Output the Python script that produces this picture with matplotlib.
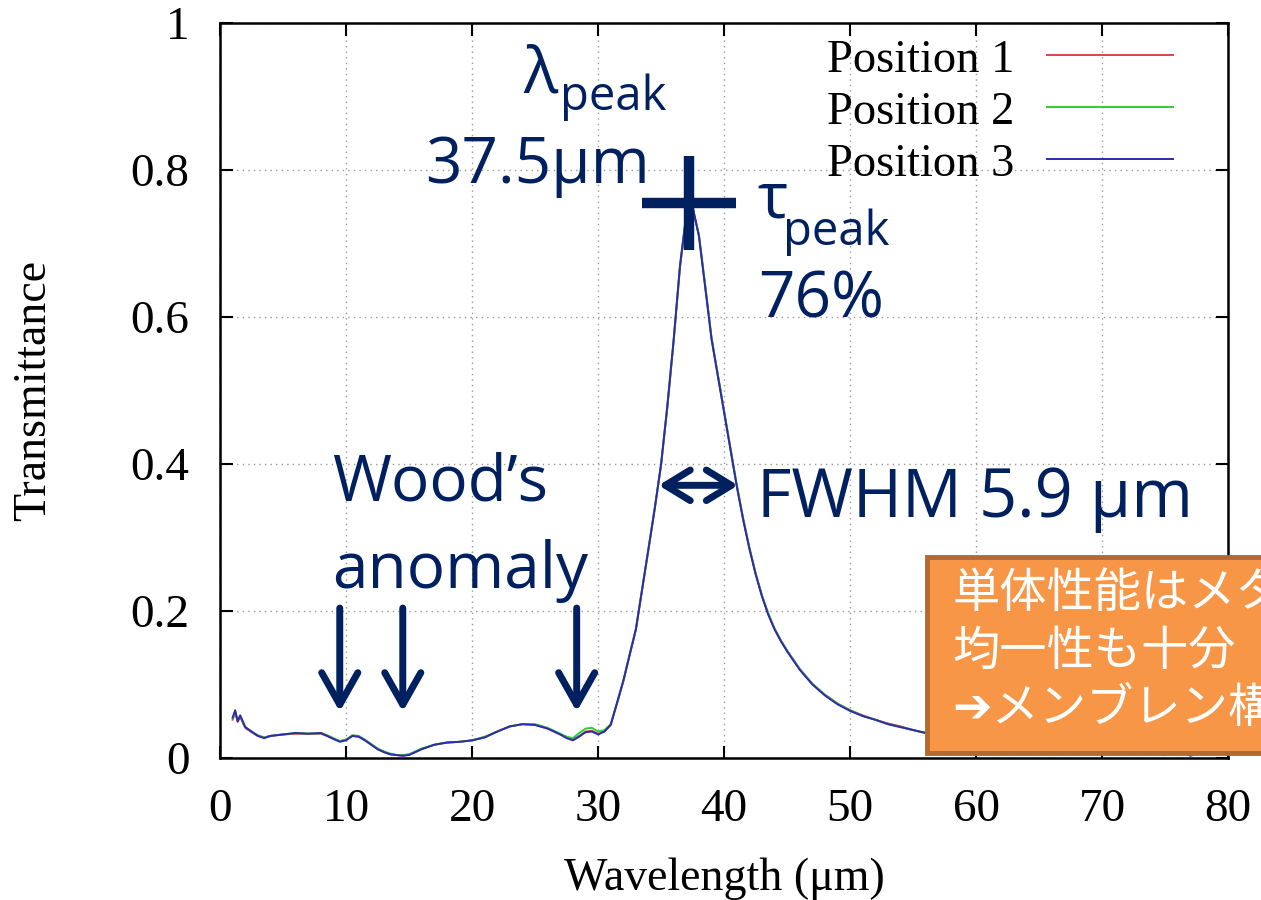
import matplotlib
matplotlib.use("Agg")
import matplotlib.pyplot as plt
from matplotlib.patches import Rectangle
import numpy as np

# wavelength grid (um) and transmittance
wavelength = [1.0, 1.2, 1.4, 1.6, 2.0, 2.5, 3.0, 3.5, 4.0, 5.0, 6.0, 7.0, 8.0, 8.5,
              9.0, 9.5, 10.0, 10.5, 11.0, 11.5, 12.0, 12.5, 13.0, 13.5, 14.0, 14.5,
              15.0, 15.5, 16.0, 17.0, 18.0, 19.0, 20.0, 21.0, 22.0, 23.0, 24.0, 25.0,
              26.0, 27.0, 27.5, 28.0, 28.5, 29.0, 29.5, 30.0, 30.5, 31.0, 31.5, 32.0,
              32.5, 33.0, 33.5, 34.0, 34.5, 35.0, 35.5, 36.0, 36.5, 37.0, 37.25, 37.5,
              38.0, 38.5, 39.0, 39.5, 40.0, 40.5, 41.0, 41.5, 42.0, 42.5, 43.0, 43.5,
              44.0, 44.5, 45.0, 46.0, 47.0, 48.0, 49.0, 50.0, 51.0, 52.0, 53.0, 54.0,
              55.0, 56.0, 57.0, 58.0, 60.0, 62.0, 64.0, 66.0, 68.0, 70.0, 72.0, 74.0,
              75.0, 76.0, 77.0, 78.0]

pos1 = [0.052, 0.062, 0.049, 0.056, 0.041, 0.035, 0.030, 0.028, 0.030, 0.032, 0.033, 0.033,
        0.033, 0.030, 0.026, 0.023, 0.025, 0.030, 0.029, 0.024, 0.018, 0.012, 0.008, 0.005,
        0.004, 0.003, 0.005, 0.008, 0.012, 0.018, 0.021, 0.022, 0.024, 0.028, 0.036, 0.043,
        0.046, 0.045, 0.040, 0.032, 0.028, 0.025, 0.030, 0.036, 0.037, 0.033, 0.036, 0.045,
        0.074, 0.104, 0.140, 0.176, 0.230, 0.284, 0.340, 0.399, 0.478, 0.568, 0.668, 0.738,
        0.753, 0.748, 0.711, 0.642, 0.571, 0.521, 0.471, 0.421, 0.371, 0.326, 0.286, 0.251,
        0.221, 0.196, 0.176, 0.160, 0.146, 0.121, 0.101, 0.086, 0.074, 0.065, 0.058, 0.052,
        0.047, 0.043, 0.038, 0.034, 0.031, 0.027, 0.023, 0.019, 0.016, 0.014, 0.012, 0.010,
        0.009, 0.008, 0.006, 0.009, 0.004, 0.007]

pos2 = [0.054, 0.063, 0.051, 0.057, 0.042, 0.036, 0.031, 0.028, 0.030, 0.032, 0.034, 0.033,
        0.034, 0.031, 0.027, 0.023, 0.025, 0.031, 0.030, 0.025, 0.019, 0.013, 0.009, 0.006,
        0.004, 0.004, 0.005, 0.009, 0.013, 0.018, 0.021, 0.022, 0.024, 0.029, 0.036, 0.043,
        0.046, 0.046, 0.041, 0.033, 0.029, 0.027, 0.034, 0.040, 0.041, 0.036, 0.038, 0.046,
        0.075, 0.105, 0.141, 0.175, 0.231, 0.285, 0.341, 0.400, 0.480, 0.570, 0.670, 0.740,
        0.754, 0.749, 0.712, 0.643, 0.572, 0.522, 0.472, 0.422, 0.372, 0.327, 0.287, 0.251,
        0.221, 0.197, 0.176, 0.160, 0.146, 0.121, 0.101, 0.086, 0.074, 0.065, 0.057, 0.052,
        0.046, 0.042, 0.038, 0.034, 0.031, 0.027, 0.023, 0.019, 0.016, 0.014, 0.012, 0.011,
        0.009, 0.008, 0.005, 0.010, 0.004, 0.008]

pos3 = [0.055, 0.065, 0.050, 0.058, 0.042, 0.036, 0.030, 0.027, 0.030, 0.032, 0.034, 0.033,
        0.034, 0.030, 0.026, 0.022, 0.024, 0.030, 0.029, 0.024, 0.018, 0.012, 0.008, 0.005,
        0.004, 0.003, 0.004, 0.008, 0.012, 0.018, 0.021, 0.022, 0.024, 0.028, 0.036, 0.043,
        0.046, 0.045, 0.040, 0.032, 0.027, 0.024, 0.029, 0.035, 0.036, 0.032, 0.036, 0.045,
        0.075, 0.105, 0.140, 0.175, 0.230, 0.285, 0.340, 0.400, 0.480, 0.570, 0.670, 0.740,
        0.755, 0.750, 0.710, 0.640, 0.570, 0.520, 0.470, 0.420, 0.370, 0.325, 0.285, 0.250,
        0.220, 0.195, 0.175, 0.159, 0.145, 0.120, 0.100, 0.085, 0.073, 0.064, 0.057, 0.052,
        0.046, 0.042, 0.038, 0.034, 0.030, 0.027, 0.022, 0.019, 0.016, 0.014, 0.012, 0.010,
        0.009, 0.008, 0.004, 0.010, 0.003, 0.008]

series_names = ["Position 1", "Position 2", "Position 3"]
series_colors = ["#dd4444", "#33cc33", "#2b2bb0"]

xticks = [0, 10, 20, 30, 40, 50, 60, 70, 80]
yticks = [0, 0.2, 0.4, 0.6, 0.8, 1.0]
ytick_labels = ["0", "0.2", "0.4", "0.6", "0.8", "1"]

wood_dips = [9.5, 14.5, 28.3]
fwhm_left, fwhm_right = 34.8, 41.1

navy = "#002060"
serif = "Liberation Serif"
sans = "Open Sans"

fig = plt.figure(figsize=(12.61, 9), dpi=100)
ax = fig.add_axes([0.1745, 0.1578, 0.7995, 0.8166])

for vals, name, col in zip([pos1, pos2, pos3], series_names, series_colors):
    ax.plot(wavelength, vals, color=col, lw=1.4, label=name)

ax.set_xlim(0, 80)
ax.set_ylim(0, 1)
ax.set_xticks(xticks)
ax.set_yticks(yticks)
ax.set_yticklabels(ytick_labels)
ax.grid(True, color="#999999", lw=1.0, linestyle=(0, (1, 3)))
ax.tick_params(direction="in", length=9, width=1.5, top=True, right=True,
               labelsize=34, pad=22)
for lab in ax.get_xticklabels() + ax.get_yticklabels():
    lab.set_family(serif)
for sp in ax.spines.values():
    sp.set_linewidth(1.8)

ax.set_xlabel("Wavelength (\u03bcm)", fontsize=33, family=serif, labelpad=19)
ax.set_ylabel("Transmittance", fontsize=33, family=serif, labelpad=54)

ax.legend(loc="upper right", bbox_to_anchor=(0.945, 0.978), frameon=False,
          markerfirst=False, prop={"family": serif, "size": 33.5},
          handlelength=2.7, handletextpad=0.7, labelspacing=0.2,
          borderpad=0, borderaxespad=0)

# peak cross at data maximum
ipk = int(np.argmax(pos3))
ax.plot(wavelength[ipk], pos3[ipk], marker="+", ms=67, mew=7.5, color=navy, zorder=5)

big = 46
sub = 34
ax.text(24.05, 0.905, "\u03bb", fontsize=big, color=navy, family=sans, va="baseline")
ax.text(26.98, 0.882, "peak", fontsize=sub, color=navy, family=sans, va="baseline")
ax.text(16.27, 0.782, "37.5\u03bcm", fontsize=big, color=navy, family=sans, va="baseline")
ax.text(42.62, 0.735, "\u03c4", fontsize=big, color=navy, family=sans, va="baseline")
ax.text(44.68, 0.698, "peak", fontsize=sub, color=navy, family=sans, va="baseline")
ax.text(42.7, 0.600, "76%", fontsize=big, color=navy, family=sans, va="baseline")
ax.text(42.62, 0.328, "FWHM 5.9 \u03bcm", fontsize=48, color=navy, family=sans, va="baseline")
ax.text(8.89, 0.351, "Wood\u2019s", fontsize=big, color=navy, family=sans, va="baseline")
ax.text(8.89, 0.231, "anomaly", fontsize=big, color=navy, family=sans, va="baseline")

for xd in wood_dips:
    ax.annotate("", xy=(xd, 0.063), xytext=(xd, 0.204),
                arrowprops=dict(arrowstyle="->,head_length=1.15,head_width=0.65",
                                lw=5, color=navy, mutation_scale=20,
                                shrinkA=0, shrinkB=0))

ax.annotate("", xy=(fwhm_left, 0.371), xytext=(fwhm_right, 0.371),
            arrowprops=dict(arrowstyle="<->,head_length=0.9,head_width=0.55",
                            lw=5, color=navy, mutation_scale=20,
                            shrinkA=0, shrinkB=0))

# orange note box (runs past the right edge like the slide)
box = Rectangle((0.735, 0.1633), 0.3, 0.2177, transform=fig.transFigure,
                facecolor="#F79646", edgecolor="#B6692E", lw=3.5, zorder=10)
fig.add_artist(box)
jp = ["Noto Sans CJK JP", "DejaVu Sans"]
note_lines = ["単体性能はメタルメッシュ同等", "均一性も十分", "\u2794メンブレン構造へ"]
for yy, line in zip([0.34, 0.2756, 0.2122], note_lines):
    fig.text(0.755, yy, line, fontsize=34, color="white", family=jp,
             va="center", ha="left", zorder=11)

fig.savefig("out.png", dpi=100)
